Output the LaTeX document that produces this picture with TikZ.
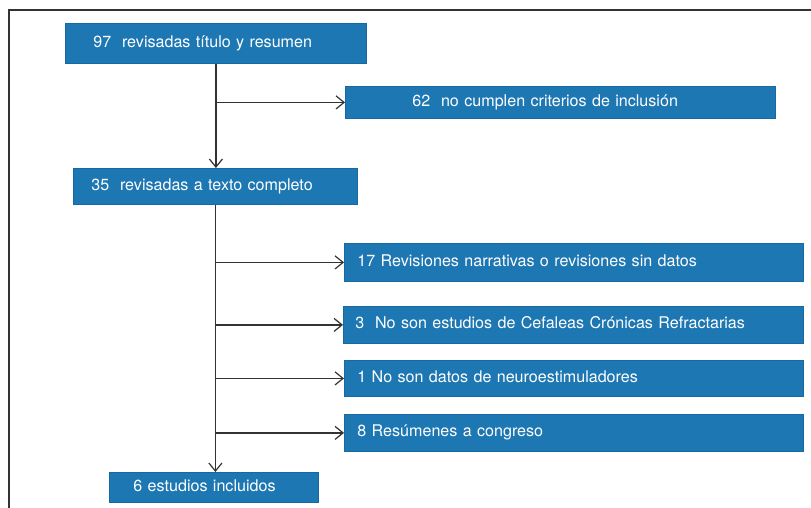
\documentclass[tikz,border=0pt]{standalone}
\usepackage{fontspec}
\setmainfont{TeX Gyre Heros}
\usetikzlibrary{arrows.meta, positioning}
\definecolor{boxblue}{HTML}{1D77B3}
\definecolor{boxedge}{HTML}{1868A2}
\definecolor{linegray}{HTML}{333333}

\begin{document}
\begin{tikzpicture}[x=1pt, y=-1pt, font=\fontsize{16.1}{19}\selectfont,
  stagebox/.style={fill=boxblue, draw=boxedge, line width=0.8pt, text=white,
    anchor=north west, align=left, inner ysep=0pt},
  flow/.style={draw=linegray, line width=1.2pt, -{Straight Barb[length=8pt, width=13pt]}}]
\useasboundingbox (0,0) rectangle (811,507);
\draw[linegray, line width=1.6pt] (9,520) -- (9,10) -- (820,10);
%
\node[stagebox, minimum width=301, minimum height=40, inner xsep=28, text width=245] (titulo) at (65,23) {97~ revisadas título y resumen\strut};
\node[stagebox, minimum width=430, minimum height=32, inner xsep=67, text width=296] (excl) at (345,86) {62~ no cumplen criterios de inclusión\strut};
\node[stagebox, minimum width=284, minimum height=36, inner xsep=18, text width=248] (texto) at (73,168) {35~ revisadas a texto completo\strut};
\node[stagebox, minimum width=459, minimum height=38, inner xsep=13, text width=433] (narr) at (344,243) {17 Revisiones narrativas o revisiones sin datos\strut};
\node[stagebox, minimum width=460, minimum height=37, inner xsep=12, text width=436] (cefal) at (343,306) {3~ No son estudios de Cefaleas Crónicas Refractarias\strut};
\node[stagebox, minimum width=459, minimum height=36, inner xsep=13, text width=433] (neuro) at (344,360) {1 No son datos de neuroestimuladores\strut};
\node[stagebox, minimum width=459, minimum height=37, inner xsep=13, text width=433] (congr) at (344,414) {8 Resúmenes a congreso\strut};
\node[stagebox, minimum width=209, minimum height=30, inner xsep=24, text width=161] (incl) at (109,472) {6 estudios incluidos\strut};
%
\draw[flow] (titulo.south) -- (titulo.south |- texto.north);
\draw[flow] (titulo.south |- excl.west) -- (excl.west);
\draw[flow] (texto.south) -- (texto.south |- incl.north);
\draw[flow] (texto.south |- narr.west) -- (narr.west);
\draw[flow] (texto.south |- cefal.west) -- (cefal.west);
\draw[flow] (texto.south |- neuro.west) -- (neuro.west);
\draw[flow] (texto.south |- congr.west) -- (congr.west);
\end{tikzpicture}
\end{document}
